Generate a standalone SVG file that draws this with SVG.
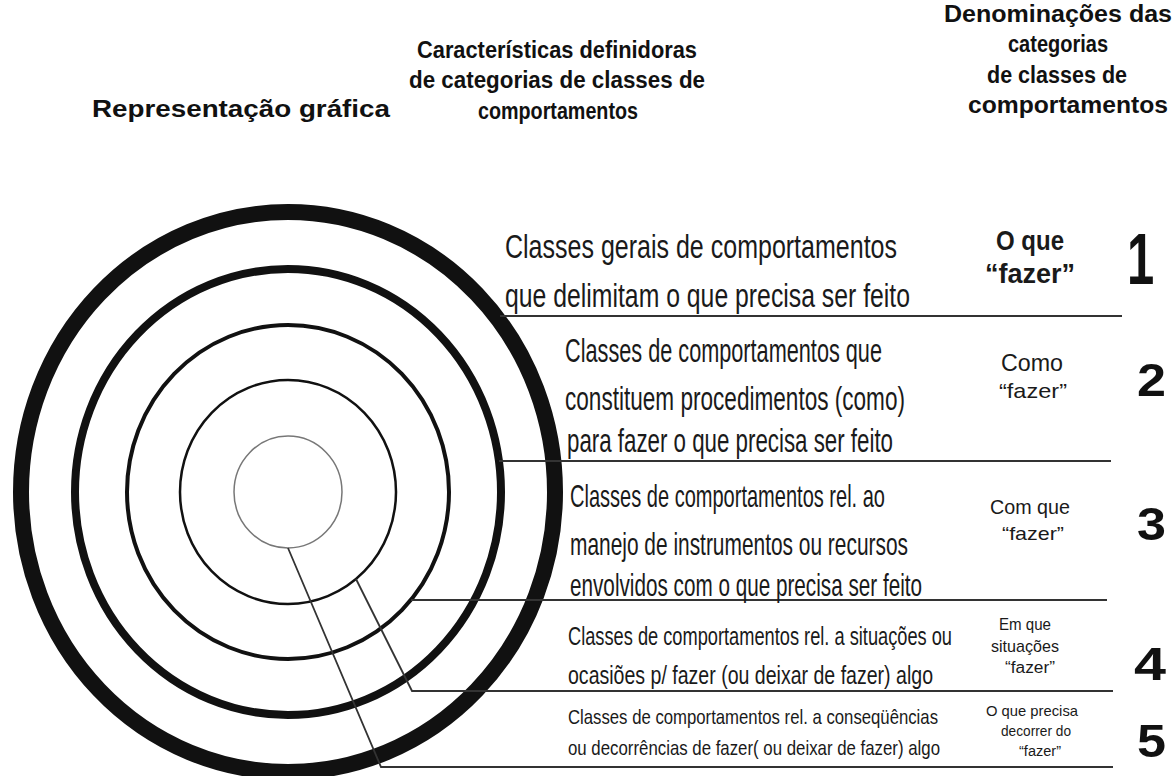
<svg xmlns="http://www.w3.org/2000/svg" width="1174" height="776" viewBox="0 0 1174 776">
<style>
.hd{font-family:"Liberation Sans",Arial,sans-serif;font-weight:bold;font-size:23px;fill:#111;text-anchor:middle}
.bd{font-family:"Liberation Sans",Arial,sans-serif;fill:#1a1a1a}
.nm{font-family:"Liberation Sans",Arial,sans-serif;fill:#1a1a1a;text-anchor:middle}
.num{font-family:"Liberation Sans",Arial,sans-serif;font-weight:bold;fill:#111}
.ring{fill:none;stroke:#111}
.conn{fill:none;stroke:#333;stroke-width:1.8}
</style>
<rect width="1174" height="776" fill="#fff"/>
<g id="headers">
<text class="hd" x="241" y="117" textLength="298" lengthAdjust="spacingAndGlyphs">Representação gráfica</text>
<text class="hd" x="557" y="58" textLength="280" lengthAdjust="spacingAndGlyphs">Características definidoras</text>
<text class="hd" x="557" y="88" textLength="296" lengthAdjust="spacingAndGlyphs">de categorias  de classes de</text>
<text class="hd" x="558" y="119" textLength="160" lengthAdjust="spacingAndGlyphs">comportamentos</text>
<text class="hd" x="1058" y="22" textLength="228" lengthAdjust="spacingAndGlyphs">Denominações das</text>
<text class="hd" x="1058" y="52" textLength="100" lengthAdjust="spacingAndGlyphs">categorias</text>
<text class="hd" x="1057" y="83" textLength="140" lengthAdjust="spacingAndGlyphs">de classes de</text>
<text class="hd" x="1068" y="113" textLength="200" lengthAdjust="spacingAndGlyphs">comportamentos</text>
</g>
<g id="circles">
<ellipse class="ring" cx="288" cy="492" rx="267" ry="280" stroke-width="16"/>
<ellipse class="ring" cx="288" cy="492" rx="213" ry="223" stroke-width="8"/>
<ellipse class="ring" cx="288" cy="492" rx="161" ry="167" stroke-width="4"/>
<ellipse class="ring" cx="288" cy="492" rx="108" ry="112" stroke-width="2.5"/>
<ellipse cx="288" cy="492" rx="54" ry="56" fill="none" stroke="#777" stroke-width="1.5"/>
</g>
<g id="connectors">
<line class="conn" x1="500" y1="316" x2="1122" y2="316"/>
<line class="conn" x1="499" y1="461" x2="1111" y2="461"/>
<line class="conn" x1="411" y1="600" x2="1107" y2="600"/>
<polyline class="conn" points="356,579 412,691 1113,691"/>
<polyline class="conn" points="288,548 381,767 1113,767"/>
</g>
<g id="cat1">
<text class="bd" x="505" y="258" font-size="34" textLength="392" lengthAdjust="spacingAndGlyphs">Classes gerais de comportamentos</text>
<text class="bd" x="505" y="307" font-size="34" textLength="405" lengthAdjust="spacingAndGlyphs">que delimitam o que precisa ser feito</text>
<text class="nm" x="1030" y="250" font-size="27" font-weight="bold" textLength="68" lengthAdjust="spacingAndGlyphs">O que</text>
<text class="nm" x="1030" y="283" font-size="27" font-weight="bold" textLength="90" lengthAdjust="spacingAndGlyphs">“fazer”</text>
<text class="num" font-size="72" transform="translate(1127,284) scale(0.68,1)">1</text>
</g>
<g id="cat2">
<text class="bd" x="565" y="362" font-size="34" textLength="317" lengthAdjust="spacingAndGlyphs">Classes de comportamentos que</text>
<text class="bd" x="565" y="410" font-size="34" textLength="340" lengthAdjust="spacingAndGlyphs">constituem procedimentos (como)</text>
<text class="bd" x="567" y="452" font-size="34" textLength="326" lengthAdjust="spacingAndGlyphs">para fazer o que precisa ser feito</text>
<text class="nm" x="1032" y="371" font-size="23" textLength="62" lengthAdjust="spacingAndGlyphs">Como</text>
<text class="nm" x="1033" y="398" font-size="21" textLength="68" lengthAdjust="spacingAndGlyphs">“fazer”</text>
<text class="num" x="1137" y="396" font-size="46" textLength="29" lengthAdjust="spacingAndGlyphs">2</text>
</g>
<g id="cat3">
<text class="bd" x="570" y="507" font-size="32" textLength="315" lengthAdjust="spacingAndGlyphs">Classes de comportamentos rel. ao</text>
<text class="bd" x="570" y="555" font-size="32" textLength="338" lengthAdjust="spacingAndGlyphs">manejo de instrumentos ou recursos</text>
<text class="bd" x="570" y="596" font-size="32" textLength="352" lengthAdjust="spacingAndGlyphs">envolvidos com o que precisa ser feito</text>
<text class="nm" x="1030" y="514" font-size="21" textLength="80" lengthAdjust="spacingAndGlyphs">Com que</text>
<text class="nm" x="1033" y="540" font-size="19" textLength="62" lengthAdjust="spacingAndGlyphs">“fazer”</text>
<text class="num" x="1137" y="540" font-size="46" textLength="29" lengthAdjust="spacingAndGlyphs">3</text>
</g>
<g id="cat4">
<text class="bd" x="568" y="645" font-size="25" textLength="384" lengthAdjust="spacingAndGlyphs">Classes de comportamentos rel. a situações ou</text>
<text class="bd" x="568" y="684" font-size="25" textLength="365" lengthAdjust="spacingAndGlyphs">ocasiões p/ fazer (ou deixar de fazer) algo</text>
<text class="nm" x="1025" y="630" font-size="17" textLength="52" lengthAdjust="spacingAndGlyphs">Em que</text>
<text class="nm" x="1025" y="652" font-size="17" textLength="68" lengthAdjust="spacingAndGlyphs">situações</text>
<text class="nm" x="1030" y="673" font-size="16" textLength="50" lengthAdjust="spacingAndGlyphs">“fazer”</text>
<text class="num" x="1134" y="680" font-size="46" textLength="32" lengthAdjust="spacingAndGlyphs">4</text>
</g>
<g id="cat5">
<text class="bd" x="568" y="724" font-size="21" textLength="370" lengthAdjust="spacingAndGlyphs">Classes de comportamentos rel. a conseqüências</text>
<text class="bd" x="568" y="755" font-size="21" textLength="372" lengthAdjust="spacingAndGlyphs">ou decorrências de fazer( ou deixar de fazer) algo</text>
<text class="nm" x="1032" y="716" font-size="15" textLength="92" lengthAdjust="spacingAndGlyphs">O que precisa</text>
<text class="nm" x="1036" y="736" font-size="15" textLength="70" lengthAdjust="spacingAndGlyphs">decorrer do</text>
<text class="nm" x="1040" y="756" font-size="14" textLength="42" lengthAdjust="spacingAndGlyphs">“fazer”</text>
<text class="num" x="1137" y="757" font-size="46" textLength="29" lengthAdjust="spacingAndGlyphs">5</text>
</g>
</svg>
